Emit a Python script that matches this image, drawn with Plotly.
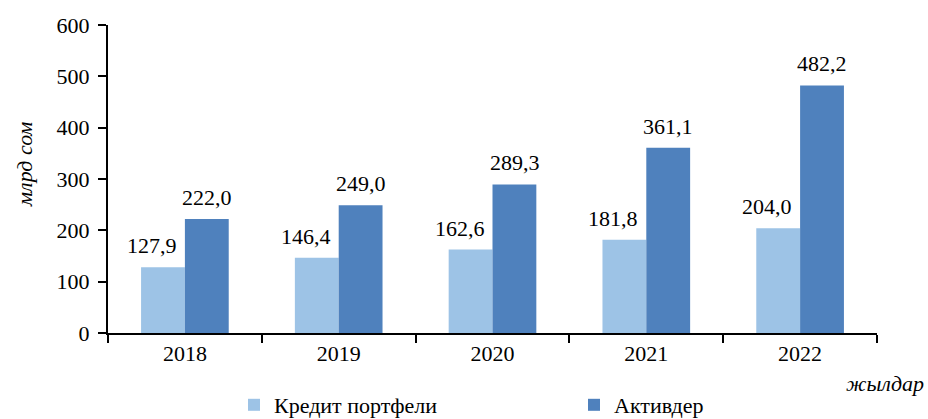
import plotly.graph_objects as go

years = ["2018", "2019", "2020", "2021", "2022"]
credit = [127.9, 146.4, 162.6, 181.8, 204.0]
assets = [222.0, 249.0, 289.3, 361.1, 482.2]
series_names = ["Кредит портфели", "Активдер"]
y_ticks = [0, 100, 200, 300, 400, 500, 600]

FONT = "Liberation Serif"
FS = 22
W, H = 928, 419
L, R, T, B = 108, 51, 25, 86
pw, ph = W - L - R, H - T - B

def px_x(px):
    return (px - L) / pw

def px_y(py):
    return (H - B - py) / ph

fig = go.Figure()
for name, vals, col in [(series_names[0], credit, "#9DC3E6"), (series_names[1], assets, "#4F81BD")]:
    fig.add_trace(go.Bar(
        x=years, y=vals, name=name,
        marker=dict(color=col, line=dict(width=0)),
    ))

def fmt(v):
    return f"{v:.1f}".replace(".", ",")

annotations = []
for vals, xs in [(credit, -33), (assets, 22)]:
    for i, v in enumerate(vals):
        annotations.append(dict(
            x=i, y=v, xref="x", yref="y", text=fmt(v), showarrow=False,
            xanchor="center", yanchor="bottom", xshift=xs, yshift=7,
            font=dict(family=FONT, size=FS, color="black")))

annotations += [
    dict(text="<i>млрд сом</i>", xref="paper", yref="paper",
         x=px_x(24), y=px_y(165), xanchor="center", yanchor="middle",
         textangle=-90, showarrow=False,
         font=dict(family=FONT, size=FS, color="black")),
    dict(text="<i>жылдар</i>", xref="paper", yref="paper",
         x=px_x(926), y=px_y(383), xanchor="right", yanchor="middle",
         showarrow=False, font=dict(family=FONT, size=FS, color="black")),
]

fig.update_layout(
    width=W, height=H,
    margin=dict(l=L, r=R, t=T, b=B, autoexpand=False),
    plot_bgcolor="white", paper_bgcolor="white",
    separators=", ",
    barmode="group", bargap=0.43, bargroupgap=0,
    font=dict(family=FONT, size=FS, color="black"),
    showlegend=True,
    legend=dict(orientation="h", x=px_x(234), xanchor="left",
                y=px_y(405), yanchor="middle",
                font=dict(family=FONT, size=FS, color="black"),
                entrywidth=295, entrywidthmode="pixels",
                bgcolor="rgba(0,0,0,0)"),
    xaxis=dict(type="category", range=[-0.5, len(years) - 0.5],
               showline=True, linecolor="black", linewidth=2,
               ticks="outside", tickson="boundaries", ticklen=8, tickwidth=2,
               tickcolor="black", showgrid=False,
               tickfont=dict(family=FONT, size=FS, color="black")),
    yaxis=dict(range=[0, 600], tickvals=y_ticks, showline=True, linecolor="black",
               linewidth=2, ticks="outside", ticklen=8, tickwidth=2, tickcolor="black",
               showgrid=False, zeroline=False, ticklabelstandoff=4,
               tickfont=dict(family=FONT, size=FS, color="black")),
    annotations=annotations,
)

fig.write_html("out.html", config={"displayModeBar": False},
               post_script="document.body.style.margin='0';")
